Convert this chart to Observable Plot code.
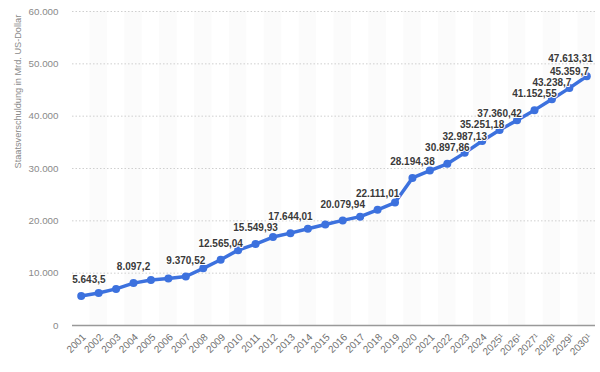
<!DOCTYPE html>
<html><head><meta charset="utf-8">
<script src="https://cdn.jsdelivr.net/npm/d3@7"></script>
<script src="https://cdn.jsdelivr.net/npm/@observablehq/plot@0.6"></script>
<style>body{margin:0;background:#fff;} #chart svg{display:block;}</style>
</head><body><div id="chart"></div>
<script>
const years = [2001,2002,2003,2004,2005,2006,2007,2008,2009,2010,2011,2012,2013,2014,2015,2016,2017,2018,2019,2020,2021,2022,2023,2024,2025,2026,2027,2028,2029,2030];
const values = [5643.5,6200,6990,8097.2,8700,9000,9370.52,10930,12565.04,14400,15549.93,16900,17644.01,18500,19300,20079.94,20800,22111.01,23500,28194.38,29600,30897.86,32987.13,35251.18,37360.42,39200,41152.55,43238.7,45359.7,47613.31];
const xTickLabels = ["2001","2002","2003","2004","2005","2006","2007","2008","2009","2010","2011","2012","2013","2014","2015","2016","2017","2018","2019","2020","2021","2022","2023","2024","2025¹","2026¹","2027¹","2028¹","2029¹","2030¹"];
const labeledYears = [2001,2004,2007,2009,2011,2013,2016,2018,2020,2022,2023,2024,2025,2027,2028,2029,2030];
const yTicks = [0,10000,20000,30000,40000,50000,60000];
const yTitle = "Staatsverschuldung in Mrd. US-Dollar";

const de = d3.formatLocale({decimal: ",", thousands: ".", grouping: [3], currency: ["", " $"]});
const fmtTick = de.format(",");
const fmtVal = de.format(",.2~f");

const data = years.map((year, i) => ({year, value: values[i], label: fmtVal(values[i])}));
const labeled = data.filter(d => labeledYears.includes(d.year));
const firstLab = labeled.slice(0, 1);
const lastLab = labeled.slice(-1);
const midLab = labeled.slice(1, -1);
const stripes = data.filter(d => d.year % 2 === 0);

const blue = "#3c71de";
const labStyle = {x: "year", y: "value", text: "label", fontSize: 10, fontWeight: "bold", fill: "#3a3a3a", stroke: "white", strokeWidth: 2, paintOrder: "stroke"};

const chart = Plot.plot({
  width: 600, height: 372,
  marginLeft: 72, marginRight: 5, marginTop: 11, marginBottom: 47,
  style: {fontFamily: "'Liberation Sans', Arial, sans-serif", background: "#fff", overflow: "visible"},
  x: {domain: [2000.5, 2030.5]},
  y: {domain: [0, 60000]},
  marks: [
    Plot.rect(stripes, {x1: d => d.year - 0.5, x2: d => d.year + 0.5, fill: "#fbfbfb"}),
    Plot.gridY(yTicks, {stroke: "#cfcfcf", strokeOpacity: 1, strokeDasharray: "1.5,2"}),
    Plot.axisY(yTicks, {tickSize: 0, tickPadding: 14, tickFormat: fmtTick, fontSize: 9.8, fill: "#8a8a8a", label: null}),
    Plot.text([yTitle], {frameAnchor: "left", rotate: -90, dx: -54, fontSize: 9.2, fill: "#8a8a8a"}),
    Plot.axisX(years, {tickFormat: d => xTickLabels[years.indexOf(d)], tickRotate: -45, tickSize: 0, tickPadding: 10, dx: 3, fontSize: 10, fill: "#707070", label: null}),
    Plot.ruleY([0], {stroke: "#999", strokeWidth: 1.5}),
    Plot.line(data, {x: "year", y: "value", stroke: blue, strokeWidth: 3.5}),
    Plot.dot(data, {x: "year", y: "value", r: 4, fill: blue}),
    Plot.text(midLab, {...labStyle, dy: -16}),
    Plot.text(firstLab, {...labStyle, dy: -16, dx: -9, textAnchor: "start"}),
    Plot.text(lastLab, {...labStyle, dy: -18, dx: 6, textAnchor: "end"})
  ]
});
document.getElementById("chart").appendChild(chart);
</script>
</body></html>
